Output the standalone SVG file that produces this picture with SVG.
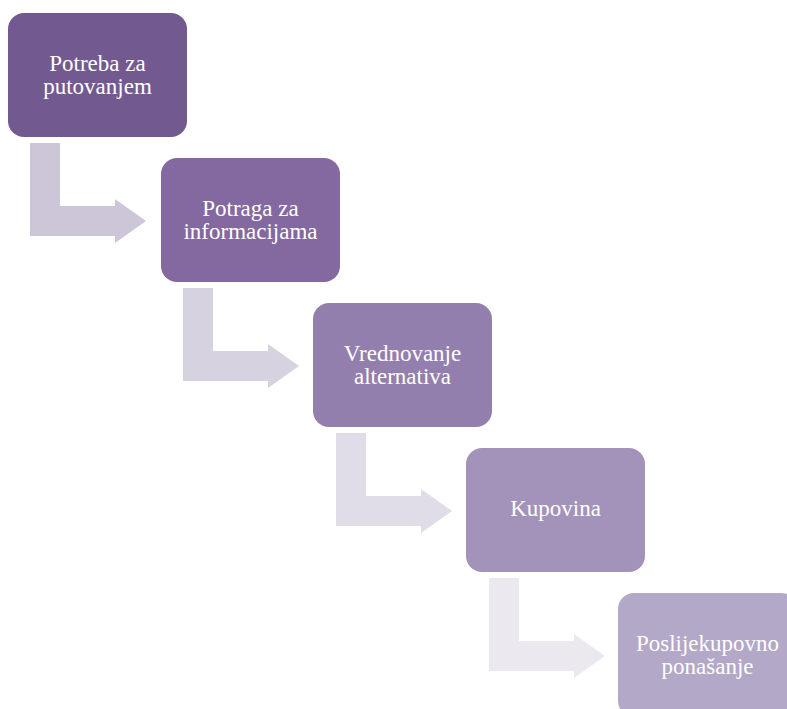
<svg xmlns="http://www.w3.org/2000/svg" width="787" height="709" viewBox="0 0 787 709">
<style>
.t{font-family:"Liberation Serif","Times New Roman",serif;font-size:23px;fill:#ffffff;text-anchor:middle}
</style>
<defs>
<path id="arr" d="M30,143 H60 V206 H115 V199 L146,221 L115,243 V236 H30 Z"/>
</defs>
<rect width="787" height="709" fill="#ffffff"/>
<g id="connectors">
<use href="#arr" fill="#CCC6D8"/>
<use href="#arr" transform="translate(153,145)" fill="#D7D2E0"/>
<use href="#arr" transform="translate(306,290)" fill="#E1DDE8"/>
<use href="#arr" transform="translate(459,435)" fill="#EBE8F0"/>
</g>
<g id="n1">
<rect x="8" y="13" width="179" height="124" rx="16" fill="#725A91"/>
<text class="t" x="97.5" y="71">Potreba za</text>
<text class="t" x="97.5" y="94">putovanjem</text>
</g>
<g id="n2">
<rect x="161" y="158" width="179" height="124" rx="16" fill="#8369A0"/>
<text class="t" x="250.5" y="216">Potraga za</text>
<text class="t" x="250.5" y="239">informacijama</text>
</g>
<g id="n3">
<rect x="313" y="303" width="179" height="124" rx="16" fill="#937FAE"/>
<text class="t" x="402.5" y="361">Vrednovanje</text>
<text class="t" x="402.5" y="384">alternativa</text>
</g>
<g id="n4">
<rect x="466" y="448" width="179" height="124" rx="16" fill="#A393BA"/>
<text class="t" x="555.5" y="516">Kupovina</text>
</g>
<g id="n5">
<rect x="618" y="593" width="179" height="124" rx="16" fill="#B3A8C7"/>
<text class="t" x="707.5" y="651">Poslijekupovno</text>
<text class="t" x="707.5" y="674">ponašanje</text>
</g>
</svg>
